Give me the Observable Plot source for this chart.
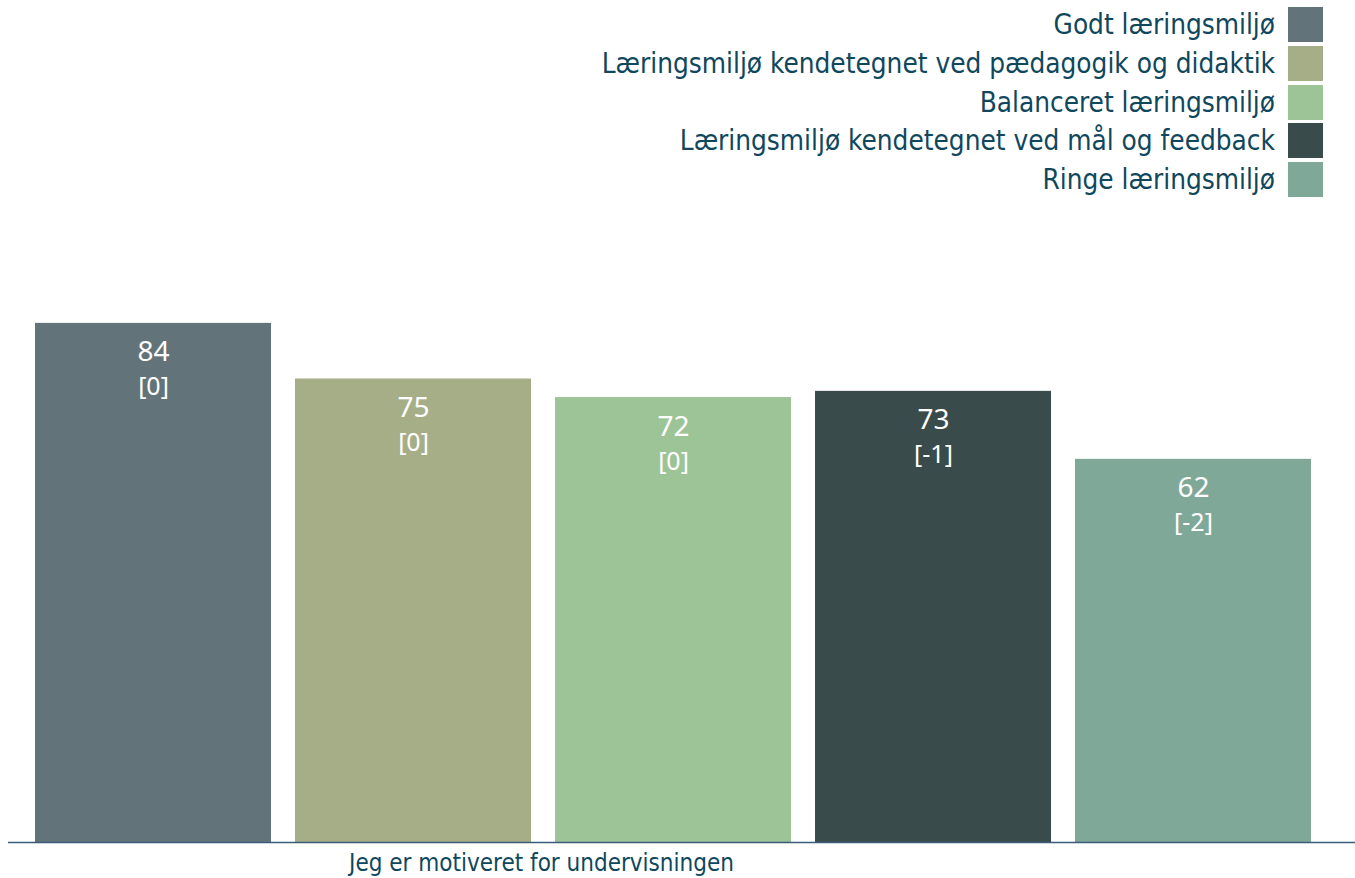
<!DOCTYPE html>
<html>
<head>
<meta charset="utf-8">
<script src="https://cdn.jsdelivr.net/npm/d3@7"></script>
<script src="https://cdn.jsdelivr.net/npm/@observablehq/plot@0.6"></script>
<style>
  html, body { margin: 0; padding: 0; background: #fff; }
  #wrap { position: relative; width: 1355px; height: 878px; overflow: hidden; }
  #legend { position: absolute; top: 7px; right: 32px; font-family: "DejaVu Sans Condensed", "DejaVu Sans", sans-serif; font-size: 27.7px; color: #0f475c; }
  .row { display: flex; justify-content: flex-end; align-items: center; height: 35px; margin-bottom: 3.75px; }
  .sw { width: 35px; height: 35px; margin-left: 13px; }
  #chart { position: absolute; left: 0; top: 0; }
</style>
</head>
<body>
<div id="wrap">
  <div id="chart"></div>
  <div id="legend"></div>
</div>
<script>
const categories = [
  "Godt læringsmiljø",
  "Læringsmiljø kendetegnet ved pædagogik og didaktik",
  "Balanceret læringsmiljø",
  "Læringsmiljø kendetegnet ved mål og feedback",
  "Ringe læringsmiljø"
];
const values = [84, 75, 72, 73, 62];
const changes = ["[0]", "[0]", "[0]", "[-1]", "[-2]"];
const colors = ["#627479", "#a6ae88", "#9dc497", "#394b4b", "#7fa899"];
const question = "Jeg er motiveret for undervisningen";

const data = categories.map((c, i) => ({cat: c, value: values[i], change: changes[i]}));

const legend = document.getElementById("legend");
categories.forEach((c, i) => {
  const row = document.createElement("div");
  row.className = "row";
  const t = document.createElement("span");
  t.textContent = c;
  const s = document.createElement("div");
  s.className = "sw";
  s.style.background = colors[i];
  row.appendChild(t);
  row.appendChild(s);
  legend.appendChild(row);
});

const chart = Plot.plot({
  width: 1355,
  height: 878,
  marginLeft: 8,
  marginRight: 0,
  marginTop: 224,
  marginBottom: 36,
  style: {background: "transparent"},
  x: {domain: categories, paddingInner: 0.0922, paddingOuter: 0.1345, align: 0.375, axis: null},
  y: {domain: [0, 100], axis: null},
  color: {domain: categories, range: colors},
  marks: [
    Plot.barY(data, {x: "cat", y: "value", fill: "cat"}),
    Plot.ruleY([0], {stroke: "#3b5b78", strokeWidth: 1.6}),
    Plot.text(data, {x: "cat", y: "value", text: d => String(d.value), dy: 29, fill: "white", fontSize: 28, fontFamily: "Noto Sans", lineAnchor: "middle"}),
    Plot.text(data, {x: "cat", y: "value", text: "change", dy: 64, fill: "white", fontSize: 25, fontFamily: "Noto Sans", lineAnchor: "middle"}),
    Plot.text([question], {frameAnchor: "bottom-left", dx: 533, dy: 21, text: d => d, textAnchor: "middle", lineAnchor: "middle", fill: "#0f475c", fontSize: 24, fontFamily: "DejaVu Sans Condensed"})
  ]
});
document.getElementById("chart").appendChild(chart);
</script>
</body>
</html>
